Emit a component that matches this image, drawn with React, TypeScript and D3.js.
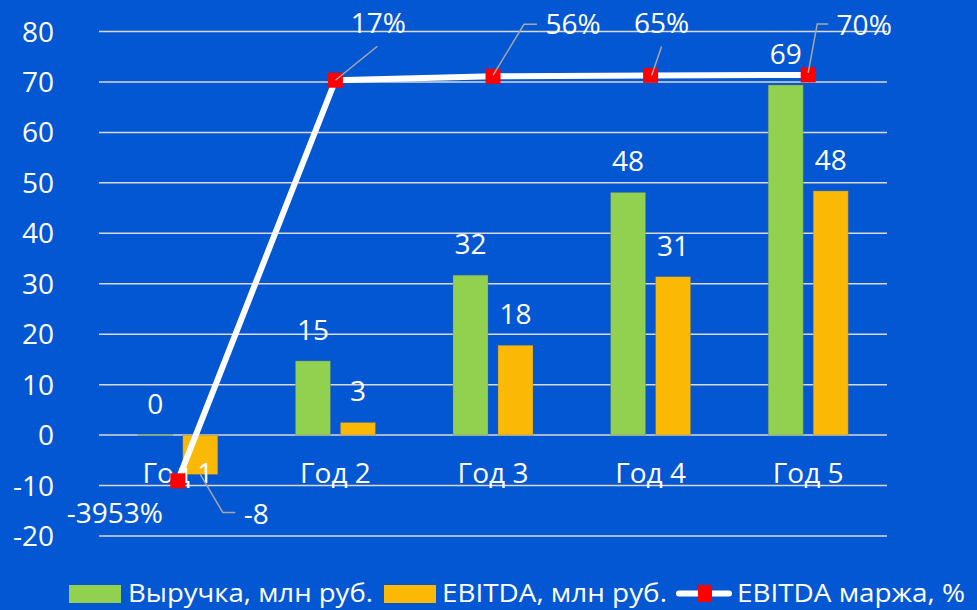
import * as d3 from 'd3';

const years = ['Год 1', 'Год 2', 'Год 3', 'Год 4', 'Год 5'];
const revenue = [0, 14.7, 31.7, 48.1, 69.4];
const ebitda = [-7.8, 2.5, 17.8, 31.4, 48.4];
const margin = [-3953, 17, 56, 65, 70];
const yTicks = [-20, -10, 0, 10, 20, 30, 40, 50, 60, 70, 80];

// where the margin labels sit relative to their marker (label centre / baseline, leader bends)
const marginLabelPos = [
  { dx: -63, dy: 42, leader: null as number[][] | null },
  { dx: 43, dy: -47, leader: [[42, -34], [0, 0]] },
  { dx: 80, dy: -42, leader: [[44, -52], [31, -52], [0, -1]] },
  { dx: 11, dy: -42, leader: [[11, -29], [1, 0]] },
  { dx: 56, dy: -40, leader: [[20, -51], [9, -51], [0, -2]] },
];

const W = 977;
const H = 610;
const BG = '#0457d2';
const GREEN = '#92d050';
const ORANGE = '#fbb906';
const GRID = '#d9d9d9';
const LEADER = '#a6a6a6';
const FONT = "'Open Sans', 'Liberation Sans', sans-serif";

export default function App() {
  const plot = { left: 99, right: 887, top: 31.5, bottom: 536 };

  const x = d3.scaleBand<string>().domain(years).range([plot.left, plot.right]).padding(0);
  const y = d3.scaleLinear().domain([-20, 80]).range([plot.bottom, plot.top]);
  // secondary (hidden) axis for the margin line
  const y2 = d3.scaleLinear().domain([-4500, 500]).range([plot.bottom, plot.top]);

  const barW = 35;
  const off = 22.5;
  const cx = (i: number) => (x(years[i]) as number) + x.bandwidth() / 2;

  const line = d3
    .line<number>()
    .x((_, i) => cx(i))
    .y((d) => y2(d));

  const bar = (v: number, i: number, dir: number, color: string, key: string) => {
    const top = y(Math.max(0, v));
    const h = Math.max(Math.abs(y(v) - y(0)), 1);
    return (
      <rect
        key={key}
        x={cx(i) + dir * off - barW / 2}
        y={v === 0 ? y(0) - 0.5 : top}
        width={barW}
        height={h}
        fill={color}
        stroke="rgba(90,110,120,0.45)"
        strokeWidth={0.75}
      />
    );
  };

  return (
    <svg
      width={W}
      height={H}
      style={{ position: 'absolute', left: 0, top: 0, background: BG, fontFamily: FONT }}
    >
      <rect x={0} y={0} width={W} height={H} fill={BG} />

      {/* grid + y tick labels */}
      {yTicks.map((t) => (
        <g key={t}>
          <line x1={plot.left} x2={plot.right} y1={y(t)} y2={y(t)} stroke={GRID} strokeWidth={1.5} />
          <text x={54} y={y(t) + 10} textAnchor="end" fontSize={28} fill="#fff">
            {t}
          </text>
        </g>
      ))}

      {/* bars */}
      {revenue.map((v, i) => bar(v, i, -1, GREEN, 'r' + i))}
      {ebitda.map((v, i) => bar(v, i, 1, ORANGE, 'e' + i))}

      {/* category labels */}
      {years.map((c, i) => (
        <text key={c} x={cx(i)} y={483} textAnchor="middle" fontSize={28} fill="#fff">
          {c}
        </text>
      ))}

      {/* bar value labels */}
      {revenue.map((v, i) => (
        <text key={'rl' + i} x={cx(i) - off} y={y(Math.max(v, 0)) - 21} textAnchor="middle" fontSize={28} fill="#fff">
          {Math.round(v)}
        </text>
      ))}
      {ebitda.map((v, i) =>
        v >= 0 ? (
          <text key={'el' + i} x={cx(i) + off} y={y(v) - 21} textAnchor="middle" fontSize={28} fill="#fff">
            {Math.round(v)}
          </text>
        ) : (
          <g key={'el' + i}>
            <polyline
              points={`${cx(i) + off},${y(v)} ${cx(i) + off + 22.5},${y(v) + 38} ${cx(i) + off + 35},${y(v) + 38}`}
              fill="none"
              stroke={LEADER}
              strokeWidth={1.5}
            />
            <text x={cx(i) + off + 56} y={y(v) + 50} textAnchor="middle" fontSize={28} fill="#fff">
              {Math.round(v)}
            </text>
          </g>
        )
      )}

      {/* margin line */}
      <path d={line(margin) || ''} fill="none" stroke="#fff" strokeWidth={6} strokeLinejoin="round" />
      {margin.map((m, i) => (
        <rect key={'m' + i} x={cx(i) - 7.5} y={y2(m) - 7.5} width={15} height={15} fill="#ff0000" />
      ))}

      {/* margin labels */}
      {margin.map((m, i) => {
        const px = cx(i);
        const py = y2(m);
        const p = marginLabelPos[i];
        return (
          <g key={'ml' + i}>
            {p.leader && (
              <polyline
                points={p.leader.map(([a, b]) => `${px + a},${py + b}`).join(' ')}
                fill="none"
                stroke={LEADER}
                strokeWidth={1.5}
              />
            )}
            <text x={px + p.dx} y={py + p.dy} textAnchor="middle" fontSize={28} fill="#fff">
              {m}%
            </text>
          </g>
        );
      })}

      {/* legend */}
      <g fontSize={25} fill="#fff">
        <rect x={69} y={585} width={52} height={18} fill={GREEN} />
        <text x={128} y={602} textLength={245} lengthAdjust="spacingAndGlyphs">
          Выручка, млн руб.
        </text>
        <rect x={384} y={585} width={52} height={18} fill={ORANGE} />
        <text x={442} y={602} textLength={225} lengthAdjust="spacingAndGlyphs">
          EBITDA, млн руб.
        </text>
        <line x1={679} x2={729} y1={593.5} y2={593.5} stroke="#fff" strokeWidth={6} strokeLinecap="round" />
        <rect x={698} y={585} width={14} height={17} fill="#ff0000" />
        <text x={737} y={602} textLength={228} lengthAdjust="spacingAndGlyphs">
          EBITDA маржа, %
        </text>
      </g>
    </svg>
  );
}
